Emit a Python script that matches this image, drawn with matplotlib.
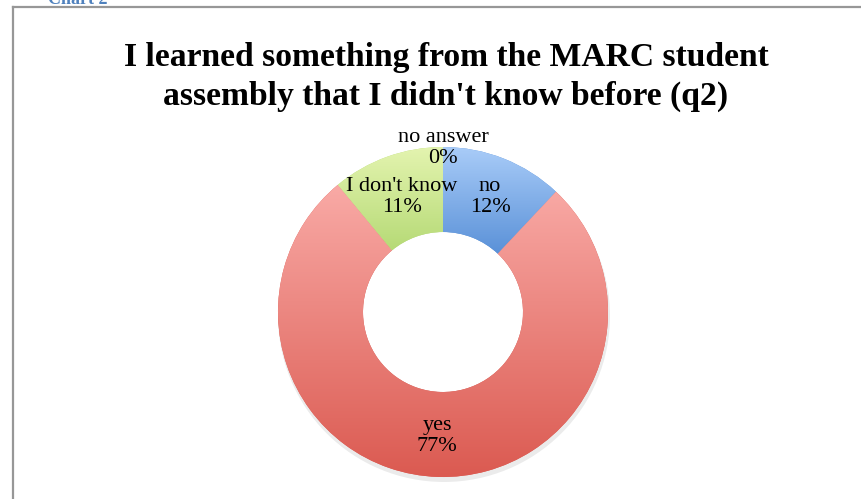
import numpy as np
import matplotlib.pyplot as plt
from matplotlib.lines import Line2D
from matplotlib.colors import LinearSegmentedColormap

## DATA
labels = ["no", "yes", "I don't know", "no answer"]
values = [12, 77, 11, 0]  # percent
pct_text = ["12%", "77%", "11%", "0%"]

# gradient (top colour, bottom colour) for each slice
grads = [("#a9ccf8", "#5a91d8"),
         ("#f9aaa6", "#db5a51"),
         ("#e4f4b0", "#b6da76"),
         ("#c9a7e8", "#9a74c8")]

## FIGURE
W, H = 861, 499
fig = plt.figure(figsize=(W / 100, H / 100), dpi=100)
ax = fig.add_axes([0, 0, 1, 1])
ax.set_axis_off()

cx, cy = 443, H - 312
R, ring = 165, 85

wedges, _ = ax.pie(values, startangle=90, counterclock=False,
                   radius=R, center=(cx, cy), frame=False,
                   wedgeprops=dict(width=ring, linewidth=0))
ax.set_xlim(0, W)
ax.set_ylim(0, H)
ax.set_aspect("equal")

# vertical gradient fill per slice, clipped to the wedge
for w, (top, bot) in zip(wedges, grads):
    ext = w.get_path().get_extents()
    if ext.height < 1 or ext.width < 1:
        continue
    cmap = LinearSegmentedColormap.from_list("g", [bot, top])
    grad = np.linspace(0, 1, 256).reshape(-1, 1)
    im = ax.imshow(grad, cmap=cmap, origin="lower", aspect="auto",
                   extent=(ext.x0, ext.x1, ext.y0, ext.y1), zorder=2)
    im.set_clip_path(w)
    w.set_facecolor(bot)
ax.set_xlim(0, W)
ax.set_ylim(0, H)

# faint shadow under the ring
shadow = plt.Circle((cx + 1, cy - 4), R + 1, color="#000000", alpha=0.08,
                    zorder=0.5, lw=0)
ax.add_patch(shadow)
ax.add_patch(plt.Circle((cx, cy), R - ring, color="white", zorder=0.6, lw=0))

## LABELS
font = ["Liberation Serif", "DejaVu Serif"]
lab_pos = [(490, 197), (437, 436), (402, 197), (443, 148)]
for name, p, (px, py) in zip(labels, pct_text, lab_pos):
    ax.text(px, H - py, name + "\n" + p, ha="center", va="center",
            fontsize=16, family=font, linespacing=1.2, zorder=5)

fig.text(446 / W, 1 - 77 / H,
         "I learned something from the MARC student\n"
         "assembly that I didn't know before (q2)",
         ha="center", va="center", fontsize=24.2, fontweight="bold",
         family=font, linespacing=1.3)

# cut-off heading at the very top
fig.text(48 / W, 1 - 4 / H, "Chart 2", ha="left", va="baseline",
         fontsize=13, fontweight="bold", color="#4f81bd", family=font)

# frame
fig.add_artist(Line2D([13 / W, 1], [1 - 7 / H, 1 - 7 / H],
                      color="#979797", lw=1.6))
fig.add_artist(Line2D([13 / W, 13 / W], [0, 1 - 7 / H],
                      color="#979797", lw=1.6))

fig.savefig("out.png", dpi=100)
